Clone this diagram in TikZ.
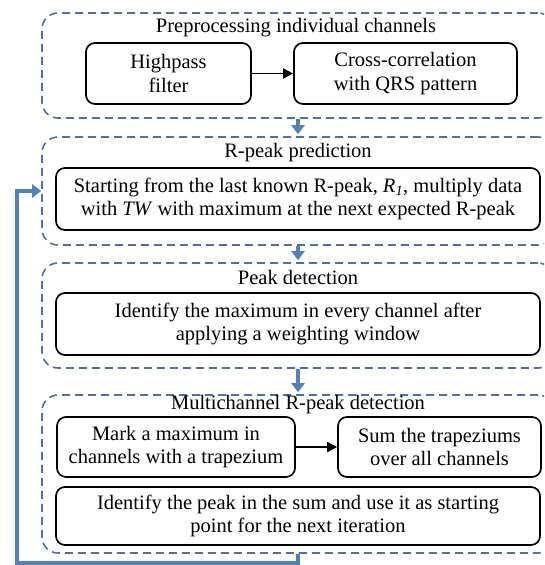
\documentclass[tikz,border=0pt]{standalone}
\usepackage{fontspec}
\setmainfont{Liberation Serif}
\usetikzlibrary{arrows.meta,positioning}
\definecolor{stageblue}{RGB}{79,112,160}
\definecolor{flowblue}{RGB}{79,129,189}

\begin{document}
\begin{tikzpicture}[x=1pt,y=-1pt,
   stage/.style={draw=stageblue,line width=1.6pt,dash pattern=on 8pt off 5pt,
    rounded corners=16pt,minimum width=512pt,inner sep=0pt},
   task/.style={draw,line width=1.7pt,rounded corners=9pt,align=center,
    inner sep=0pt,font=\fontsize{20.5}{23.5}\selectfont},
   title/.style={font=\fontsize{20.5}{23}\selectfont,inner sep=0pt},
   flow/.style={draw=flowblue,line width=3.5pt,-{Triangle[width=13pt,length=9pt]}},
   link/.style={line width=1.8pt,-{Triangle[width=10pt,length=10pt]}}]
   \useasboundingbox (0,0) rectangle (544,565);
   \clip (0,0) rectangle (544,565);
   % stages
   \node[stage,minimum height=105pt] (pre)  at (298,65.5) {};
   \node[stage,minimum height=108pt] (pred) at (298,191) {};
   \node[stage,minimum height=105pt] (det)  at (298,315.5) {};
   \node[stage,minimum height=158pt] (mc)   at (298,474) {};
   \node[title] (preT)  at (296,28)  {Preprocessing individual channels};
   \node[title] (predT) at (298,153) {R-peak prediction};
   \node[title] (detT)  at (298,277) {Peak detection};
   \node[title] (mcT)   at (298,405) {Multichannel R-peak detection};
   % tasks
   \node[task,minimum width=165pt,minimum height=61pt] (hp) at (168.5,73.5)
    {Highpass\\filter};
   \node[task,minimum width=223pt,minimum height=61pt] (xc) at (405.5,73.5)
    {Cross-correlation\\with QRS pattern};
   \node[task,minimum width=484pt,minimum height=62pt] (tw) at (298,199)
    {Starting from the last known R-peak, \textit{R\textsubscript{1}}, multiply data\\
     with \textit{TW} with maximum at the next expected R-peak};
   \node[task,minimum width=484pt,minimum height=62pt] (max) at (298,324)
    {Identify the maximum in every channel after\\applying a weighting window};
   \node[task,minimum width=238pt,minimum height=60pt] (mark) at (176,447)
    {Mark a maximum in\\channels with a trapezium};
   \node[task,minimum width=203pt,minimum height=60pt] (sum) at (439.5,447)
    {Sum the trapeziums\\over all channels};
   \node[task,minimum width=484pt,minimum height=58pt] (peak) at (298,516)
    {Identify the peak in the sum and use it as starting\\point for the next iteration};
   \draw[link] (hp) -- (xc);
   \draw[link] (mark) -- (sum);
   % flow between stages
   \draw[flow,shorten >=2pt] (pre.south) -- (pred.north);
   \draw[flow,shorten >=2pt] (pred.south) -- (det.north);
   \draw[flow,shorten >=2pt] (det.south) -- (mc.north);
   \coordinate (back) at (17,563);
   \draw[flow] (mc.south) -- (mc.south |- back) -- (back) |- (pred.west);
\end{tikzpicture}
\end{document}
